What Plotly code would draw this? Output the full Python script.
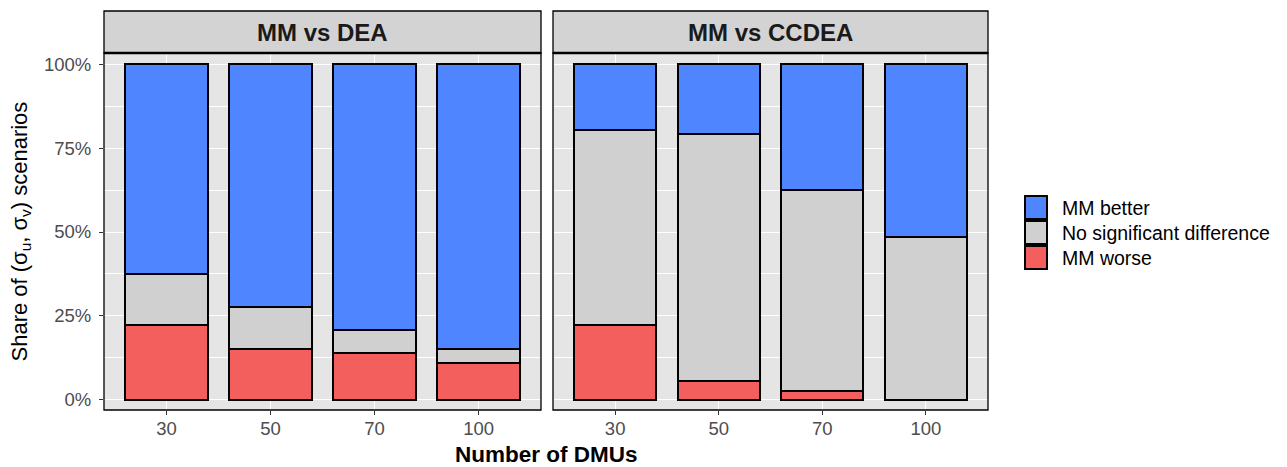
import plotly.graph_objects as go

# Share of (sigma_u, sigma_v) scenarios by outcome, per number of DMUs
dmus = ["30", "50", "70", "100"]
panels = ["MM vs DEA", "MM vs CCDEA"]

dea_worse = [0.222, 0.153, 0.139, 0.111]
dea_nodiff = [0.153, 0.125, 0.069, 0.042]
dea_better = [0.625, 0.722, 0.792, 0.847]

ccdea_worse = [0.222, 0.056, 0.028, 0.0]
ccdea_nodiff = [0.583, 0.736, 0.597, 0.486]
ccdea_better = [0.194, 0.208, 0.375, 0.514]

outcomes = ["MM better", "No significant difference", "MM worse"]
colors = {"MM better": "#4F86FF", "No significant difference": "#D0D0D0", "MM worse": "#F25F5C"}

W, H = 1287, 467
FONT = "Liberation Sans, Arial, sans-serif"

# pixel layout of panels
px_panels = [(104, 541), (553, 988)]
px_top, px_bottom, px_strip_top = 53, 410, 11


def fx(p):
    return p / W


def fy(p):
    return (H - p) / H


fig = go.Figure()

series = [
    (dea_worse, dea_nodiff, dea_better),
    (ccdea_worse, ccdea_nodiff, ccdea_better),
]

for i, (worse, nodiff, better) in enumerate(series):
    xa = "x" if i == 0 else "x2"
    ya = "y" if i == 0 else "y2"
    for name, vals in (("MM worse", worse), ("No significant difference", nodiff), ("MM better", better)):
        fig.add_trace(go.Bar(
            x=dmus, y=vals, name=name, xaxis=xa, yaxis=ya, width=0.79,
            marker=dict(color=colors[name], line=dict(color="black", width=2)),
            showlegend=False,
        ))

grid_major = "white"
yticks = [0, 0.25, 0.5, 0.75, 1.0]
ytext = ["0%", "25%", "50%", "75%", "100%"]
tick_font = dict(family=FONT, size=18.5, color="#4D4D4D")

common_x = dict(
    type="category", categoryorder="array", categoryarray=dmus,
    range=[-0.6, 3.6], showgrid=True, gridcolor=grid_major, gridwidth=1.2,
    ticks="outside", ticklen=4, tickcolor="#333333", tickwidth=1,
    tickfont=tick_font, ticklabelstandoff=-2,
    showline=False, zeroline=False, fixedrange=True,
)
common_y = dict(
    range=[-0.03, 1.033], tickvals=yticks, ticktext=ytext,
    showgrid=True, gridcolor=grid_major, gridwidth=1.2,
    minor=dict(tickvals=[0.125, 0.375, 0.625, 0.875], showgrid=True,
               gridcolor=grid_major, gridwidth=0.6, ticks=""),
    ticks="outside", ticklen=4, tickcolor="#333333", tickwidth=1,
    tickfont=tick_font, ticklabelstandoff=4,
    showline=False, zeroline=False, fixedrange=True,
)

fig.update_layout(
    width=W, height=H,
    margin=dict(l=0, r=0, t=0, b=0),
    paper_bgcolor="white", plot_bgcolor="#E5E5E5",
    barmode="stack", bargap=0.2,
    showlegend=False,
    xaxis=dict(common_x, domain=[fx(px_panels[0][0]), fx(px_panels[0][1])], anchor="y"),
    xaxis2=dict(common_x, domain=[fx(px_panels[1][0]), fx(px_panels[1][1])], anchor="y2"),
    yaxis=dict(common_y, domain=[fy(px_bottom), fy(px_top)], anchor="x"),
    yaxis2=dict(common_y, domain=[fy(px_bottom), fy(px_top)], anchor="x2", showticklabels=False, ticks=""),
)

shapes = []
annotations = []
for i, title in enumerate(panels):
    x0, x1 = px_panels[i]
    # panel border
    shapes.append(dict(type="rect", xref="paper", yref="paper",
                       x0=fx(x0), x1=fx(x1), y0=fy(px_bottom), y1=fy(px_top),
                       line=dict(color="black", width=1.3), fillcolor="rgba(0,0,0,0)", layer="above"))
    # strip
    shapes.append(dict(type="rect", xref="paper", yref="paper",
                       x0=fx(x0), x1=fx(x1), y0=fy(px_top), y1=fy(px_strip_top),
                       line=dict(color="black", width=1.3), fillcolor="#D3D3D3", layer="above"))
    shapes.append(dict(type="line", xref="paper", yref="paper",
                       x0=fx(x0), x1=fx(x1), y0=fy(px_top), y1=fy(px_top),
                       line=dict(color="black", width=2.5), layer="above"))
    annotations.append(dict(text="<b>%s</b>" % title, xref="paper", yref="paper",
                            x=fx((x0 + x1) / 2), y=fy((px_top + px_strip_top) / 2 + 1),
                            xanchor="center", yanchor="middle", showarrow=False,
                            font=dict(family=FONT, size=24, color="#1A1A1A")))

# axis titles
annotations.append(dict(text="<b>Number of DMUs</b>", xref="paper", yref="paper",
                        x=fx((px_panels[0][0] + px_panels[1][1]) / 2), y=fy(454),
                        xanchor="center", yanchor="middle", showarrow=False,
                        font=dict(family=FONT, size=22.5, color="black")))
annotations.append(dict(text="Share of (σ<sub>u</sub>, σ<sub>v</sub>) scenarios", xref="paper", yref="paper",
                        x=fx(21), y=fy((px_top + px_bottom) / 2), textangle=-90,
                        xanchor="center", yanchor="middle", showarrow=False,
                        font=dict(family=FONT, size=22, color="black")))

# legend drawn as keys with labels
key_x0, key_x1 = 1025, 1047
key_rows = [(196, 219), (221, 244), (246, 269)]
for name, (r0, r1) in zip(outcomes, key_rows):
    shapes.append(dict(type="rect", xref="paper", yref="paper",
                       x0=fx(key_x0), x1=fx(key_x1), y0=fy(r1), y1=fy(r0),
                       line=dict(color="black", width=2), fillcolor=colors[name]))
    annotations.append(dict(text=name, xref="paper", yref="paper",
                            x=fx(1060), y=fy((r0 + r1) / 2), xanchor="left", yanchor="middle",
                            showarrow=False, font=dict(family=FONT, size=19.5, color="black")))

fig.update_layout(shapes=shapes, annotations=annotations)
fig.write_html("out.html")
